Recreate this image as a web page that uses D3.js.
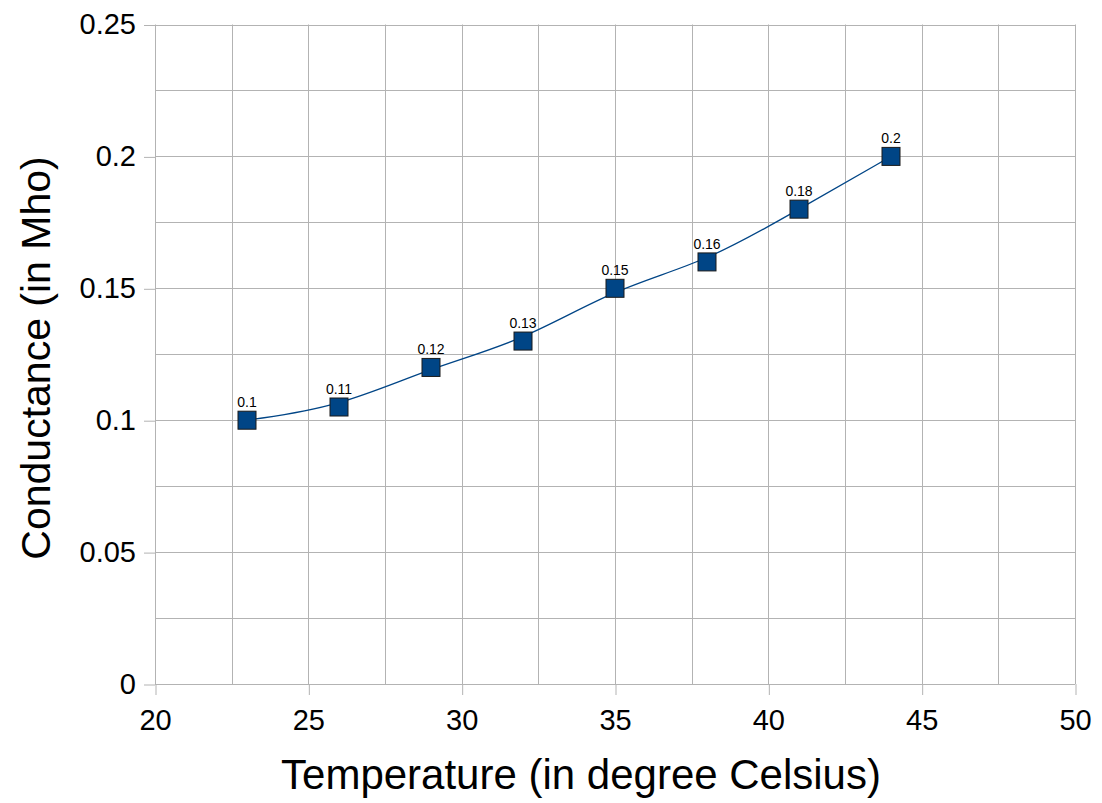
<!DOCTYPE html>
<html><head><meta charset="utf-8">
<script src="https://cdn.jsdelivr.net/npm/d3@7"></script>
<style>body{margin:0;background:#fff}svg{display:block;font-family:"Liberation Sans",Arial,sans-serif}</style>
</head><body><svg id="c" width="1102" height="803"></svg>
<script>
const temperature = [23, 26, 29, 32, 35, 38, 41, 44];
const conductance = [0.1, 0.105, 0.12, 0.13, 0.15, 0.16, 0.18, 0.2];
const pointLabels = ["0.1", "0.11", "0.12", "0.13", "0.15", "0.16", "0.18", "0.2"];
const xTicks = [20, 25, 30, 35, 40, 45, 50];
const yTicks = [0, 0.05, 0.1, 0.15, 0.2, 0.25];
const xTitle = "Temperature (in degree Celsius)";
const yTitle = "Conductance (in Mho)";

const svg = d3.select("#c");
const L = 155, R = 1075, T = 24.5, B = 684;
const x = d3.scaleLinear().domain([20, 50]).range([L, R]);
const y = d3.scaleLinear().domain([0, 0.25]).range([B, T]);
const grid = "#b3b3b3";
const FF = "Liberation Sans, Arial, sans-serif";

// grid lines
const xGrid = d3.range(20, 50.01, 2.5);
const yGrid = d3.range(0, 0.2501, 0.025);
svg.append("g").selectAll("line").data(xGrid).join("line")
  .attr("x1", d => Math.round(x(d)) + 0.5).attr("x2", d => Math.round(x(d)) + 0.5)
  .attr("y1", T).attr("y2", B).attr("stroke", grid).attr("stroke-width", 1);
svg.append("g").selectAll("line").data(yGrid).join("line")
  .attr("y1", d => Math.round(y(d)) + 0.5).attr("y2", d => Math.round(y(d)) + 0.5)
  .attr("x1", L).attr("x2", R).attr("stroke", grid).attr("stroke-width", 1);

// axes
const xAxis = d3.axisBottom(x).tickValues(xTicks).tickSize(11).tickPadding(14).tickFormat(d3.format("d"));
const gx = svg.append("g").attr("transform", `translate(0,${B})`).call(xAxis);
gx.select(".domain").remove();
gx.selectAll("line").attr("stroke", grid).attr("transform", "translate(0.5,0)");
gx.selectAll("text").style("font-size", "29px").attr("fill", "#000").style("font-family", FF);

const yAxis = d3.axisLeft(y).tickValues(yTicks).tickSize(11).tickPadding(8).tickFormat(d => d === 0 ? "0" : String(d));
const gy = svg.append("g").attr("transform", `translate(${L},0)`).call(yAxis);
gy.select(".domain").remove();
gy.selectAll("line").attr("stroke", grid).attr("transform", "translate(0,0.5)");
gy.selectAll("text").style("font-size", "29px").attr("fill", "#000").style("font-family", FF);

// line (B-spline smoothing)
const data = temperature.map((t, i) => ({t, c: conductance[i], lab: pointLabels[i]}));
svg.append("path").datum(data)
  .attr("d", d3.line().x(d => x(d.t)).y(d => y(d.c)).curve(d3.curveBasis))
  .attr("fill", "none").attr("stroke", "#004586").attr("stroke-width", 1.3);

// markers
const s = 18;
svg.append("g").selectAll("rect").data(data).join("rect")
  .attr("x", d => x(d.t) - s / 2).attr("y", d => y(d.c) - s / 2)
  .attr("width", s).attr("height", s)
  .attr("fill", "#004586").attr("stroke", "#1a1a1a").attr("stroke-width", 1);

// labels
svg.append("g").selectAll("text").data(data).join("text")
  .attr("x", d => x(d.t)).attr("y", d => y(d.c) - 13)
  .attr("text-anchor", "middle").style("font-size", "14px").attr("fill", "#000")
  .text(d => d.lab);

// titles
svg.append("text").attr("x", 581).attr("y", 789).attr("text-anchor", "middle")
  .style("font-size", "42px").attr("fill", "#000").text(xTitle);
svg.append("text").attr("transform", `translate(50,358) rotate(-90)`)
  .attr("text-anchor", "middle").style("font-size", "41px").attr("fill", "#000").text(yTitle);
</script></body></html>
